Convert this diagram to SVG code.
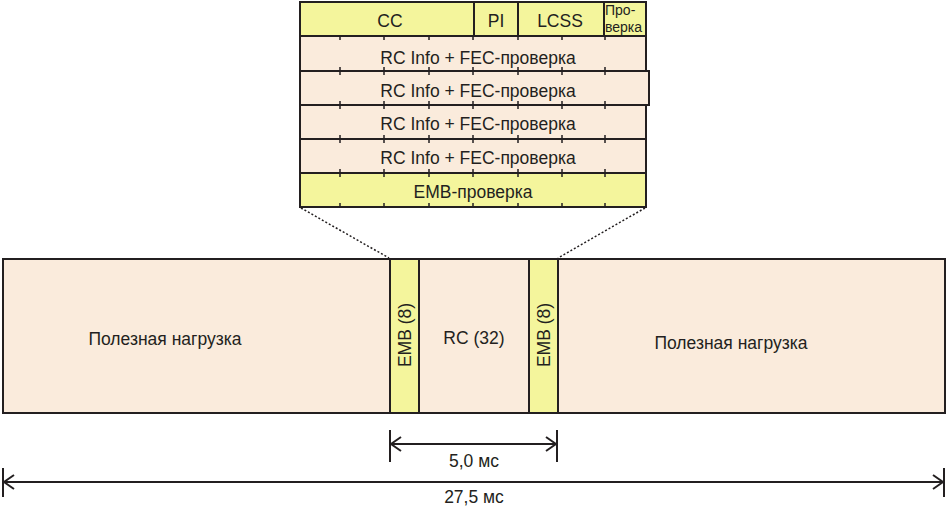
<svg xmlns="http://www.w3.org/2000/svg" width="948" height="509" viewBox="0 0 948 509">
<defs>
<style>
.y{fill:#f4f59c;stroke:#231f20;stroke-width:2}
.p{fill:#faebdc;stroke:#231f20;stroke-width:2}
.ln{stroke:#231f20;stroke-width:2;fill:none}
.tk{stroke:#231f20;stroke-width:1.5}
.t{font-family:"Liberation Sans",Arial,sans-serif;font-size:17.5px;fill:#231f20;text-anchor:middle}
.s{font-family:"Liberation Sans",Arial,sans-serif;font-size:14px;fill:#231f20;text-anchor:start}
.dot{stroke:#231f20;stroke-width:1.5;stroke-dasharray:2 2;fill:none}
</style>
<marker id="ar" viewBox="0 0 12 16" refX="11" refY="8" markerWidth="12" markerHeight="16" markerUnits="userSpaceOnUse" orient="auto-start-reverse">
<path d="M1,1 L11,8 L1,15" fill="none" stroke="#231f20" stroke-width="2"/>
</marker>
</defs>
<g id="frame">
<rect id="payload" class="p" x="3" y="259" width="942" height="154"/>
<text class="t" x="165" y="345">Полезная нагрузка</text>
<text class="t" x="731" y="349">Полезная нагрузка</text>
</g>
<g id="emb1"><rect class="y" x="390" y="259" width="29" height="154"/><text class="t" transform="translate(411,335) rotate(-90)">EMB (8)</text></g>
<g id="rc"><text class="t" x="474" y="344">RC (32)</text></g>
<g id="emb2"><rect class="y" x="529" y="259" width="29" height="154"/><text class="t" transform="translate(550,335) rotate(-90)">EMB (8)</text></g>
<g id="table">
<rect class="y" x="300" y="2" width="346" height="34"/>
<line class="ln" x1="474" y1="2" x2="474" y2="36"/>
<line class="ln" x1="518" y1="2" x2="518" y2="36"/>
<line class="ln" x1="604" y1="2" x2="604" y2="36"/>
<text class="t" x="390" y="27">CC</text>
<text class="t" x="496" y="27">PI</text>
<text class="t" x="560" y="27">LCSS</text>
<text class="s" x="605" y="15">Про-</text>
<text class="s" x="605" y="32">верка</text>
<rect class="p" x="300" y="36" width="346" height="35"/>
<rect class="p" x="300" y="71" width="349" height="34"/>
<rect class="p" x="300" y="105" width="346" height="34"/>
<rect class="p" x="300" y="139" width="346" height="34"/>
<rect class="y" x="300" y="173" width="346" height="34"/>
<text class="t" x="478" y="64">RC Info + FEC-проверка</text>
<text class="t" x="478" y="97">RC Info + FEC-проверка</text>
<text class="t" x="478" y="130">RC Info + FEC-проверка</text>
<text class="t" x="478" y="164">RC Info + FEC-проверка</text>
<text class="t" x="473" y="198">EMB-проверка</text>
<g class="tk">
<path d="M340,36v4M384,36v4M429,36v4M473,36v4M518,36v4M562,36v4M605,36v4"/>
<path d="M340,67v8M384,67v8M429,67v8M473,67v8M518,67v8M562,67v8M605,67v8"/>
<path d="M340,101v8M384,101v8M429,101v8M473,101v8M518,101v8M562,101v8M605,101v8"/>
<path d="M340,135v8M384,135v8M429,135v8M473,135v8M518,135v8M562,135v8M605,135v8"/>
<path d="M340,169v8M384,169v8M429,169v8M473,169v8M518,169v8M562,169v8M605,169v8"/>
<path d="M340,203v4M384,203v4M429,203v4M473,203v4M518,203v4M562,203v4M605,203v4"/>
</g>
</g>
<g id="connectors">
<line class="dot" x1="301" y1="208" x2="389" y2="258"/>
<line class="dot" x1="645" y1="208" x2="558" y2="258"/>
<line class="ln" x1="390" y1="430" x2="390" y2="462"/>
<line class="ln" x1="557" y1="430" x2="557" y2="462"/>
<line class="ln" x1="391" y1="444" x2="556" y2="444" marker-start="url(#ar)" marker-end="url(#ar)"/>
<line class="ln" x1="3" y1="468" x2="3" y2="497"/>
<line class="ln" x1="944" y1="468" x2="944" y2="497"/>
<line class="ln" x1="4" y1="482" x2="943" y2="482" marker-start="url(#ar)" marker-end="url(#ar)"/>
</g>
<g id="labels">
<text class="t" x="474" y="467">5,0 мс</text>
<text class="t" x="474" y="503">27,5 мс</text>
</g>
</svg>
